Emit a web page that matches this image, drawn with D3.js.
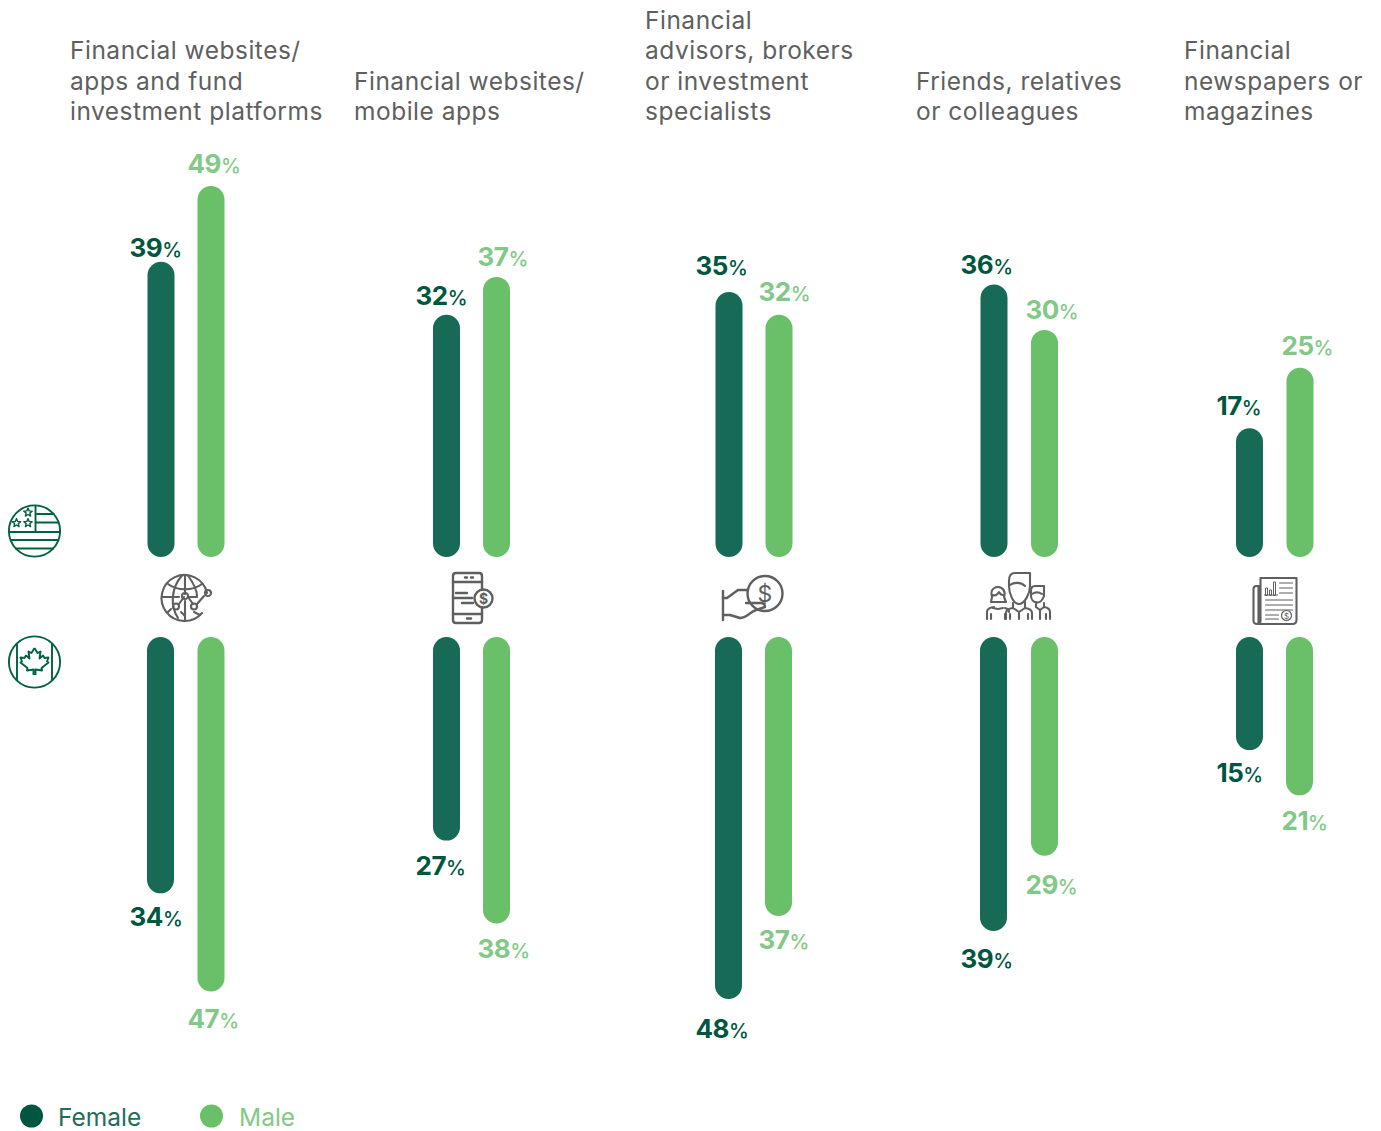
<!DOCTYPE html>
<html>
<head>
<meta charset="utf-8">
<script src="https://cdn.jsdelivr.net/npm/d3@7/dist/d3.min.js"></script>
<style>
html,body{margin:0;padding:0;background:#fff}
svg{display:block}
text{font-family:Inter,"Open Sans",sans-serif}
</style>
</head>
<body>
<div id="chart"></div>
<script>
// Sources of investment information, by gender, in the US (upper) and Canada (lower)
const titles = [
  ["Financial websites/", "apps and fund", "investment platforms"],
  ["Financial websites/", "mobile apps"],
  ["Financial", "advisors, brokers", "or investment", "specialists"],
  ["Friends, relatives", "or colleagues"],
  ["Financial", "newspapers or", "magazines"]
];
const usFemale = [39, 32, 35, 36, 17];
const usMale = [49, 37, 32, 30, 25];
const caFemale = [34, 27, 48, 39, 15];
const caMale = [47, 38, 37, 29, 21];
const legendItems = ["Female", "Male"];

// Layout, kept apart from the values
const titleX = [70, 354, 645, 916, 1184];
const femaleX = [161, 446.5, 729, 994, 1249.5];
const maleX = [211, 496.5, 779, 1044.5, 1300];
const femaleLabelX = [129.5, 415.5, 695.5, 960.5, 1216.5];
const maleLabelX = [187.5, 477.5, 758.5, 1025.5, 1281.5];
const usFemaleGap = [5, 10, 17, 10, 13];
const usMaleGap = [13, 11, 14, 11, 13];
const caFemaleGap = [33, 34, 39, 37, 32];
const caMaleGap = [37, 34, 33, 38, 35];
const barWidth = 27;

const dark = "#176a56", light = "#6ac069";
const darkText = "#00563f", lightText = "#82c987";
const grey = "#5f5f5f", iconGreen = "#00623f";

const svg = d3.select("#chart").append("svg").attr("width", 1381).attr("height", 1131);

const yUp = d3.scaleLinear().domain([0, 50]).range([557, 178.5]);
const yDown = d3.scaleLinear().domain([0, 50]).range([637, 1014]);

// Column headings, bottom-aligned on a shared baseline
titles.forEach((lines, i) => {
  svg.append("g").selectAll("text").data(lines).join("text")
    .attr("x", titleX[i])
    .attr("y", (d, k) => 120 - (lines.length - 1 - k) * 30.4)
    .attr("font-size", 24.5)
    .attr("letter-spacing", 0.5)
    .attr("fill", grey)
    .text(d => d);
});

// A bar with rounded ends and its value label
function series(values, xs, y, fill, textFill, labelX, gaps, up) {
  const g = svg.append("g");
  g.selectAll("rect").data(values).join("rect")
    .attr("x", (d, i) => xs[i] - barWidth / 2)
    .attr("width", barWidth)
    .attr("y", d => up ? y(d) : y(0))
    .attr("height", d => Math.abs(y(d) - y(0)))
    .attr("rx", barWidth / 2)
    .attr("fill", fill);
  const t = g.selectAll("text").data(values).join("text")
    .attr("x", (d, i) => labelX[i])
    .attr("y", (d, i) => up ? y(d) - gaps[i] : y(d) + gaps[i])
    .attr("fill", textFill);
  t.append("tspan").attr("font-size", 26).attr("font-weight", 700).attr("letter-spacing", -0.5).text(d => d);
  t.append("tspan").attr("font-size", 20).attr("font-weight", 500).text("%");
}
series(usFemale, femaleX, yUp, dark, darkText, femaleLabelX, usFemaleGap, true);
series(usMale, maleX, yUp, light, lightText, maleLabelX, usMaleGap, true);
series(caFemale, femaleX.map((x, i) => x - (i === 0 || i === 2 || i === 3 ? 0.5 : 0)), yDown, dark, darkText, femaleLabelX, caFemaleGap, false);
series(caMale, maleX.map((x, i) => x - (i === 2 || i === 4 ? 0.5 : 0)), yDown, light, lightText, maleLabelX, caMaleGap, false);

// Outline icon helpers
function icon(x, y, color, width) {
  return svg.append("g").attr("transform", `translate(${x},${y})`)
    .attr("fill", "none").attr("stroke", color)
    .attr("stroke-width", width).attr("stroke-linecap", "round").attr("stroke-linejoin", "round");
}
function star(g, cx, cy, r) {
  const pts = d3.range(10).map(i => {
    const a = -Math.PI / 2 + i * Math.PI / 5, q = i % 2 ? r * 0.45 : r;
    return [cx + q * Math.cos(a), cy + q * Math.sin(a)].join(",");
  }).join(" ");
  g.append("polygon").attr("points", pts).attr("stroke-width", 1.4);
}

// US flag badge
{
  const g = icon(34.5, 531, iconGreen, 1.9).attr("stroke-linecap", "butt");
  g.append("circle").attr("r", 25.6);
  g.append("path").attr("d", "M1,-25.6V1M1,-17H20M1,-8.5H24.5M-25.5,1H25.5M-24,9H24M-19.5,17.5H19.5");
  star(g, -6.5, -18.5, 4.4);
  star(g, -18, -8, 4.4);
  star(g, -6.5, -8, 4.4);
}

// Canadian flag badge
{
  const g = icon(34.5, 662, iconGreen, 1.9).attr("stroke-linecap", "butt");
  g.append("circle").attr("r", 25.6);
  g.append("path").attr("d", "M-17.5,-19V19M17.5,-19V19");
  g.append("path").attr("d", "M0,-14L3,-9L6,-10.5L5,-3.5L8.5,-6.5L10,-4L14,-4.5L12.5,-0.5L14,0.5L7,6L7.5,8.5L1,7.5V13M0,-14L-3,-9L-6,-10.5L-5,-3.5L-8.5,-6.5L-10,-4L-14,-4.5L-12.5,-0.5L-14,0.5L-7,6L-7.5,8.5L-1,7.5V13");
}

// Globe with trend line
{
  const g = icon(185, 598, grey, 2.1);
  g.append("path").attr("d", "M17,15A23,23 0 1 1 22,-5");
  g.append("path").attr("d", "M-3,-22.5C-14,-10 -15,8 -7,20M3,-22.5C9,-14 12,-8 12,-2");
  g.append("path").attr("d", "M-17,-14C-8,-7 8,-7 17,-14M-22.5,-1H-8M4,-1H12M-17,14L-14,11M9,14L15,17");
  g.append("path").attr("d", "M0,-4V-22M0,3V22M-4,14L0,18M-10,-1H-6");
  g.append("path").attr("d", "M-6,6L-1,-1M3,-1L8,6M12,6L19,-2");
  g.append("circle").attr("cx", 0).attr("cy", -2).attr("r", 3);
  g.append("circle").attr("cx", -9).attr("cy", 8.5).attr("r", 3);
  g.append("circle").attr("cx", 9).attr("cy", 8.5).attr("r", 3);
  g.append("circle").attr("cx", 23).attr("cy", -5).attr("r", 3);
}

// Phone with moving dollar coin
{
  const g = icon(468, 598, grey, 2.4);
  g.append("path").attr("d", "M14,-9V-22Q14,-25 11,-25H-12Q-15,-25 -15,-22V22Q-15,25 -12,25H11Q14,25 14,22V10");
  g.append("path").attr("d", "M-15,-16H14M-15,16H14M-3,-20.5H-1M3,-20.5H5M-1,20.5H3");
  g.append("path").attr("d", "M-12,-5H-1M-15,0H4M-6,5H5");
  g.append("circle").attr("cx", 15.5).attr("cy", 0.5).attr("r", 9);
  g.append("text").attr("x", 15.5).attr("y", 5.5).attr("text-anchor", "middle").attr("font-size", 14).attr("font-weight", 700)
    .attr("fill", grey).attr("stroke", "none").text("$");
}

// Hand holding a coin
{
  const g = icon(752, 598, grey, 2.4);
  g.append("circle").attr("cx", 13).attr("cy", -4.5).attr("r", 17.5).attr("fill", "#fff");
  g.append("text").attr("x", 13).attr("y", 3.5).attr("text-anchor", "middle").attr("font-size", 23)
    .attr("fill", grey).attr("stroke", "none").text("$");
  g.append("path").attr("d", "M-29,-7V22");
  g.append("path").attr("d", "M-29,0H-25L-14,-8H-4M-6,5H9Q13,5 13,9L4,12C-2,14 -6,20 -12,20L-22,17H-29");
}

// Three colleagues
{
  const g = icon(1019, 598, grey, 2.1);
  g.append("path").attr("d", "M-10,-17V-12C-10,-5 -6,6 0,6C6,6 11,-5 11,-12V-25H-4C-9,-25 -10,-21 -10,-17M-9,-13C-5,-16 2,-16 6,-12");
  g.append("path").attr("d", "M-6,5V10L0,14L6,10V4M0,14V21M-13,21V15Q-13,11 -6,10M13,21V15Q13,11 6,10M-9,16V21M9,16V21");
  g.append("path").attr("d", "M-27,-1C-30,-11 -21,-11 -21,-11C-16,-11 -13,-6 -15,-1L-13,4H-28ZM-26,-3C-24,-2 -22,-3 -20,-6C-19,-4 -17,-3 -16,-3M-26,10L-21,11L-16,10");
  g.append("path").attr("d", "M-32,21V14Q-32,10 -25,9M-14,10Q-10,11 -10,14M-28,16V21M-14,16V21");
  g.append("path").attr("d", "M12,-7V-2C12,4 21,9 25,-2V-12H16C13,-12 12,-10 12,-7M13,-4C16,-6 20,-6 23,-4M17,4V9L21,12L25,9V5M21,12V21M25,9Q31,10 31,14V21M27,16V21");
}

// Newspaper with chart and dollar seal
{
  const g = icon(1274.5, 601, grey, 2.1);
  g.append("path").attr("d", "M-16,-15V22Q-16,23 -14,23H18Q22,23 22,19V-23H-14V20Q-14,23 -17,23Q-21,23 -21,20V-12Q-21,-15 -18,-15H-14");
  g.append("path").attr("d", "M-9,-6V-13H-7V-6ZM-5,-6V-11H-3V-6ZM-1,-6V-19H1V-6ZM3,-6H-10").attr("stroke-width", 1);
  g.append("path").attr("d", "M5,-18H18M5,-13H18M5,-8H18M-9,-1H18M-9,4H18M-9,9H18M-9,14H4M-9,18H4").attr("stroke-width", 1.2);
  g.append("circle").attr("cx", 12).attr("cy", 14.5).attr("r", 5).attr("stroke-width", 1.2);
  g.append("text").attr("x", 12).attr("y", 18).attr("text-anchor", "middle").attr("font-size", 8)
    .attr("fill", grey).attr("stroke", "none").text("$");
}

// Legend
const legend = svg.append("g").selectAll("g").data(legendItems).join("g");
legend.append("circle")
  .attr("cx", (d, i) => i ? 211.5 : 31.5).attr("cy", 1116).attr("r", 11.5)
  .attr("fill", (d, i) => i ? light : "#00563f");
legend.append("text")
  .attr("x", (d, i) => i ? 239 : 58).attr("y", 1126)
  .attr("font-size", 24.5)
  .attr("fill", (d, i) => i ? lightText : "#1f6e5a")
  .text(d => d);
</script>
</body>
</html>
